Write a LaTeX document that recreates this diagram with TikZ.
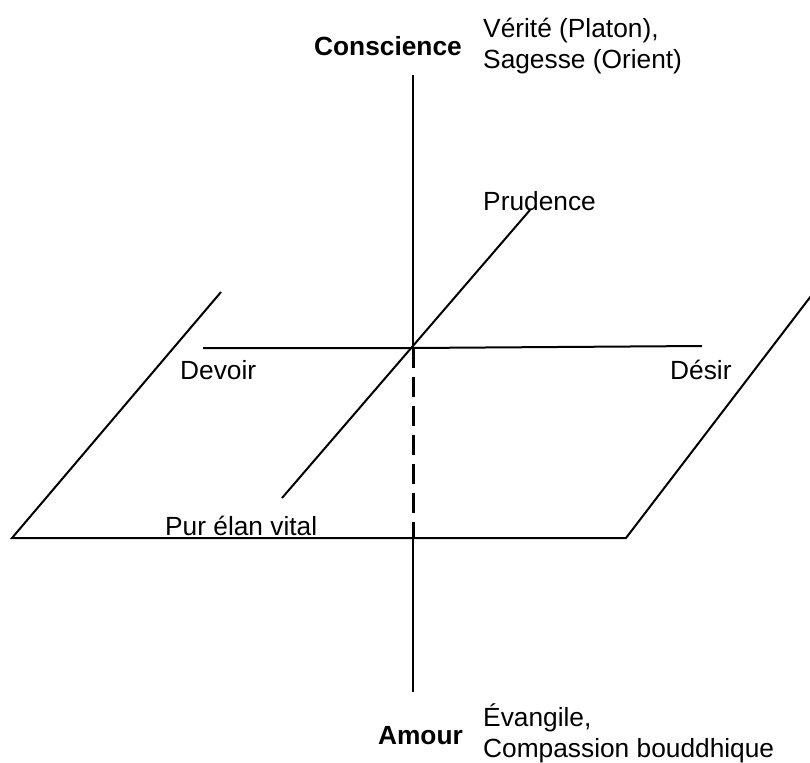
\documentclass[tikz,border=0pt]{standalone}
\usepackage{fontspec}
\setmainfont{Liberation Sans}
\begin{document}
\begin{tikzpicture}[x=1pt,y=-1pt,
  ax/.style={line width=2pt,line cap=butt},
  lbl/.style={inner sep=0pt,font=\fontsize{26.3}{31}\selectfont,anchor=base west,align=left},
  blbl/.style={inner sep=0pt,font=\fontsize{26.3}{31}\selectfont\bfseries,anchor=base east}]
\useasboundingbox (0,0) rectangle (810,762);
% coordinates
\coordinate (top) at (413,75);
\coordinate (c) at (413,348);
\coordinate (pb) at (413,538);
\coordinate (bot) at (413,692);
\coordinate (dv) at (203,348);
\coordinate (ds) at (702,346);
\coordinate (pr) at (530,210);
\coordinate (pe) at (282,498);
\coordinate (p1) at (12,538);
\coordinate (p2) at (221,292);
\coordinate (p3) at (626,538);
\coordinate (p4) at (811,296);
% axes
\draw[ax] (top) -- (c);
\draw[ax,line width=3pt,dash pattern=on 20pt off 9pt] (c) -- (pb);
\draw[ax] (pb) -- (bot);
\draw[ax] (dv) -- (c) -- (ds);
\draw[ax] (pe) -- (pr);
% plane
\draw[ax,line join=miter] (p2) -- (p1) -- (p3) -- (p4);
% labels
\node[blbl] (cons) at (462,56) {Conscience};
\node[lbl] (ver) at (483,69) {Vérité (Platon),\\Sagesse (Orient)};
\node[lbl] (prud) at (483,210) {Prudence};
\node[lbl] (dev) at (180,379) {Devoir};
\node[lbl] (des) at (670,379) {Désir};
\node[lbl] (pur) at (165,535) {Pur élan vital};
\node[blbl] (am) at (463,744) {Amour};
\node[lbl] (ev) at (483,757) {Évangile,\\Compassion bouddhique};
\end{tikzpicture}
\end{document}
